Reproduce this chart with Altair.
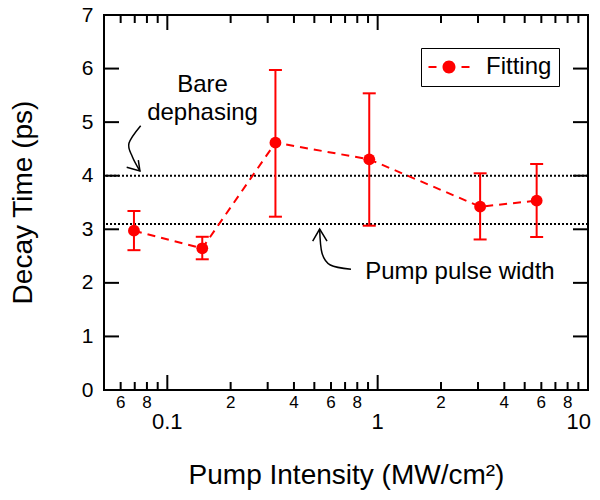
import altair as alt
import pandas as pd

# ---- data ----
intensity = [0.0694, 0.1466, 0.3266, 0.912, 3.07, 5.70]
decay = [2.974, 2.645, 4.617, 4.306, 3.422, 3.534]
err_low = [2.61, 2.44, 3.235, 3.067, 2.81, 2.856]
err_high = [3.341, 2.86, 5.973, 5.538, 4.045, 4.219]
series = ["Fitting"] * 6

ref_lines = [4.0, 3.1]

x_major = [0.1, 1]
x_major_labels = ["0.1", "1"]
x_end = [10]
x_end_labels = ["10"]
x_minor = [0.06, 0.07, 0.08, 0.09, 0.2, 0.3, 0.4, 0.5, 0.6, 0.7, 0.8, 0.9,
           2, 3, 4, 5, 6, 7, 8, 9]
x_minor_label_vals = [0.06, 0.08, 0.2, 0.4, 0.6, 0.8, 2, 4, 6, 8]
x_minor_labels = ["6", "8", "2", "4", "6", "8", "2", "4", "6", "8"]
y_ticks = [0, 1, 2, 3, 4, 5, 6, 7]

# annotations (data coordinates)
ann_c_text = ["Bare", "dephasing"]
ann_c_x = [0.147, 0.147]
ann_c_y = [5.557, 5.04]
ann_l_text = ["Pump pulse width"]
ann_l_x = [0.873]
ann_l_y = [2.072]

# arrows: curve + head, in data coordinates
arrow_id = ["a1", "a1", "a1", "a1", "a2", "a2", "a2", "a2"]
arrow_x = [0.0747, 0.0657, 0.0682, 0.0741, 0.7468, 0.5957, 0.544, 0.530]
arrow_y = [4.934, 4.605, 4.355, 4.088, 2.253, 2.333, 2.552, 3.005]
head_id = ["h1", "h1", "h1", "h2", "h2", "h2"]
head_x = [0.0641, 0.0741, 0.0728, 0.491, 0.530, 0.5745]
head_y = [4.157, 4.088, 4.293, 2.781, 3.005, 2.781]

W, H = 484, 375
xs = alt.Scale(type="log", domain=[0.05, 10], nice=False)
ys = alt.Scale(domain=[0, 7], nice=False)

AX = alt.Axis(title="Pump Intensity (MW/cm²)", labels=False, ticks=False,
              domain=False, grid=False, titleFontSize=28,
              titleFontWeight="normal", titleX=242, titleY=93,
              titleBaseline="alphabetic", titleAlign="center",
              titleColor="black")
AY = alt.Axis(title="Decay Time (ps)", values=y_ticks, ticks=False,
              domain=False, grid=False, labelFontSize=21, labelPadding=11,
              labelColor="black", titleFontSize=28, titleFontWeight="normal",
              titleAngle=270, titleX=-81, titleY=187, titleBaseline="middle",
              titleAlign="center", titleColor="black")

df = pd.DataFrame({"intensity": intensity, "decay": decay, "low": err_low,
                   "high": err_high, "series": series})

X = lambda f: alt.X(f, type="quantitative", scale=xs, axis=AX)
Y = lambda f: alt.Y(f, type="quantitative", scale=ys, axis=AY)

# reference dotted lines
refs = alt.Chart(pd.DataFrame({"y": ref_lines})).mark_rule(
    color="black", strokeDash=[2, 2], strokeWidth=2
).encode(y=Y("y"))

# error bars
bars = alt.Chart(df).mark_rule(color="#ff0000", strokeWidth=2).encode(
    x=X("intensity"), y=Y("low"), y2="high")
cap_lo = alt.Chart(df).mark_tick(color="#ff0000", orient="horizontal", size=13,
                                 thickness=2, opacity=1).encode(x=X("intensity"), y=Y("low"))
cap_hi = alt.Chart(df).mark_tick(color="#ff0000", orient="horizontal", size=13,
                                 thickness=2, opacity=1).encode(x=X("intensity"), y=Y("high"))

line = alt.Chart(df).mark_line(color="#ff0000", strokeDash=[8, 6], strokeWidth=2).encode(
    x=X("intensity"), y=Y("decay"))

legend_path = ("M-1.783,-0.087H-1.087V0.087H-1.783Z M1.087,-0.087H1.783V0.087H1.087Z "
               "M0.565,0A0.565,0.565,0,1,1,-0.565,0A0.565,0.565,0,1,1,0.565,0Z")

pts = alt.Chart(df).mark_point(filled=True, size=140, opacity=1).encode(
    x=X("intensity"), y=Y("decay"),
    color=alt.Color("series:N",
                    scale=alt.Scale(domain=["Fitting"], range=["#ff0000"]),
                    legend=alt.Legend(title=None, orient="none", legendX=317, legendY=33,
                                      symbolType=legend_path, symbolSize=529,
                                      symbolStrokeWidth=0, symbolOffset=9,
                                      labelFontSize=24, labelOffset=25, padding=7,
                                      strokeColor="black", fillColor="white",
                                      labelColor="black")),
)

# annotations
ann_c = alt.Chart(pd.DataFrame({"t": ann_c_text, "x": ann_c_x, "y": ann_c_y})).mark_text(
    fontSize=24, align="center", baseline="alphabetic", color="black"
).encode(x=X("x"), y=Y("y"), text="t:N")
ann_l = alt.Chart(pd.DataFrame({"t": ann_l_text, "x": ann_l_x, "y": ann_l_y})).mark_text(
    fontSize=24, align="left", baseline="alphabetic", color="black"
).encode(x=X("x"), y=Y("y"), text="t:N")

adf = pd.DataFrame({"id": arrow_id, "x": arrow_x, "y": arrow_y,
                    "o": list(range(len(arrow_id)))})
arrows = alt.Chart(adf).mark_line(color="black", strokeWidth=1.5, interpolate="cardinal").encode(
    x=X("x"), y=Y("y"), detail="id:N", order="o:Q")
hdf = pd.DataFrame({"id": head_id, "x": head_x, "y": head_y, "o": list(range(len(head_id)))})
heads = alt.Chart(hdf).mark_line(color="black", strokeWidth=1.5).encode(
    x=X("x"), y=Y("y"), detail="id:N", order="o:Q")

# inward ticks
maj = pd.DataFrame({"x": x_major + x_end})
mnr = pd.DataFrame({"x": x_minor})
yt = pd.DataFrame({"y": y_ticks})
tick_style = dict(color="black", strokeWidth=2)
t1 = alt.Chart(maj).mark_rule(**tick_style).encode(x=X("x"), y=alt.value(H), y2=alt.value(H - 15))
t2 = alt.Chart(maj).mark_rule(**tick_style).encode(x=X("x"), y=alt.value(0), y2=alt.value(15))
t3 = alt.Chart(mnr).mark_rule(**tick_style).encode(x=X("x"), y=alt.value(H), y2=alt.value(H - 8))
t4 = alt.Chart(mnr).mark_rule(**tick_style).encode(x=X("x"), y=alt.value(0), y2=alt.value(8))
t5 = alt.Chart(yt).mark_rule(**tick_style).encode(y=Y("y"), x=alt.value(0), x2=alt.value(15))
t6 = alt.Chart(yt).mark_rule(**tick_style).encode(y=Y("y"), x=alt.value(W), x2=alt.value(W - 15))

# x tick labels
lab_min = alt.Chart(pd.DataFrame({"x": x_minor_label_vals, "t": x_minor_labels})).mark_text(
    fontSize=17, baseline="middle", align="center", color="black"
).encode(x=X("x"), y=alt.value(H + 13), text="t:N")
lab_maj = alt.Chart(pd.DataFrame({"x": x_major, "t": x_major_labels})).mark_text(
    fontSize=22, baseline="middle", align="center", color="black"
).encode(x=X("x"), y=alt.value(H + 32), text="t:N")
lab_end = alt.Chart(pd.DataFrame({"x": x_end, "t": x_end_labels})).mark_text(
    fontSize=22, baseline="middle", align="right", dx=3, color="black"
).encode(x=X("x"), y=alt.value(H + 32), text="t:N")

chart = alt.layer(
    refs, bars, cap_lo, cap_hi, line, pts, ann_c, ann_l, arrows, heads,
    t1, t2, t3, t4, t5, t6, lab_min, lab_maj, lab_end
).properties(
    width=W, height=H,
    autosize=alt.AutoSizeParams(type="none"),
    padding={"left": 96, "top": 7, "right": 4, "bottom": 102},
).configure(font="Liberation Sans").configure_view(stroke="black", strokeWidth=2)

chart.save("out.html", embed_options={"renderer": "svg", "actions": False})
